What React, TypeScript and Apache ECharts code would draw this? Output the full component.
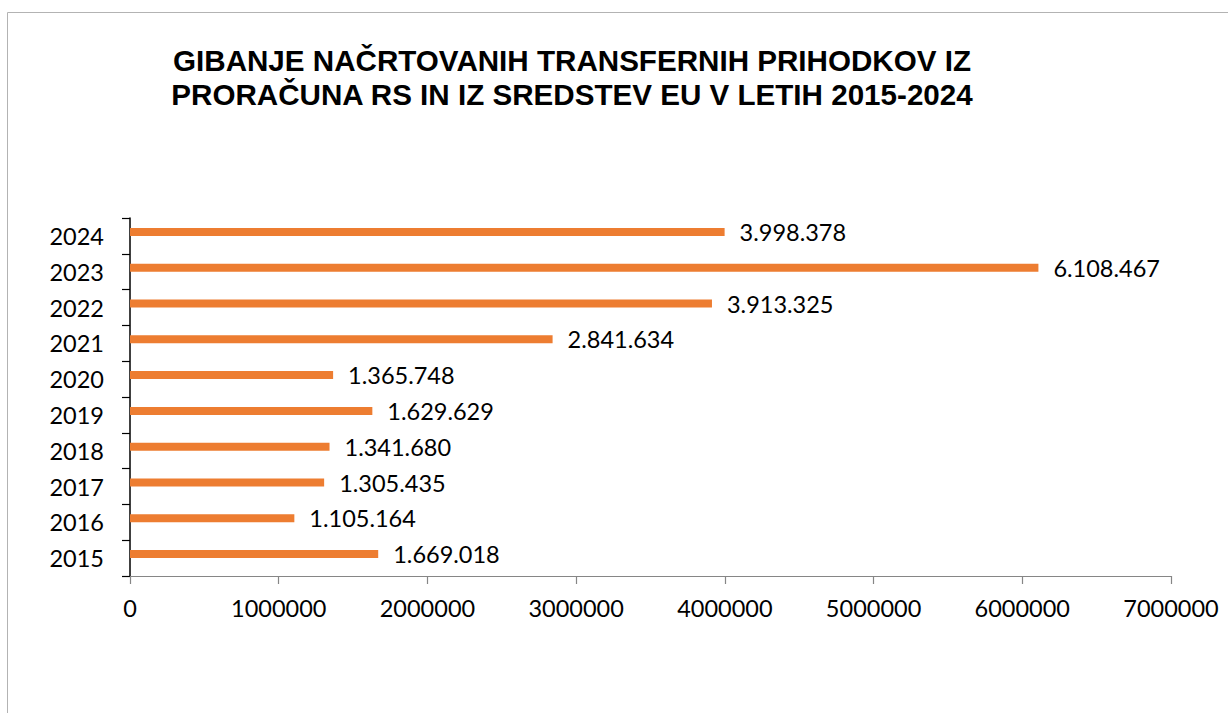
import React, { useEffect, useRef } from "react";
import * as echarts from "echarts";

const years = ["2015", "2016", "2017", "2018", "2019", "2020", "2021", "2022", "2023", "2024"];
const values = [1669018, 1105164, 1305435, 1341680, 1629629, 1365748, 2841634, 3913325, 6108467, 3998378];
const titleLines = [
  "GIBANJE NAČRTOVANIH TRANSFERNIH PRIHODKOV IZ",
  "PRORAČUNA RS IN IZ SREDSTEV EU V LETIH 2015-2024",
];
const xMin = 0;
const xMax = 7000000;
const xStep = 1000000;

const fmt = (v: number) => String(v).replace(/\B(?=(\d{3})+(?!\d))/g, ".");

export default function App() {
  const ref = useRef<HTMLDivElement>(null);
  useEffect(() => {
    document.body.style.margin = "0";
    const chart = echarts.init(ref.current!, undefined, { renderer: "svg" });
    const font = "Lato, 'Open Sans', sans-serif";
    chart.setOption({
      animation: false,
      backgroundColor: "#ffffff",
      graphic: [
        {
          type: "rect",
          shape: { x: 7.5, y: 12.5, width: 1300, height: 800 },
          style: { fill: "none", stroke: "#b3b3b3", lineWidth: 1 },
          silent: true,
        },
        {
          type: "text",
          x: 572,
          y: 43,
          style: {
            text: titleLines.join("\n"),
            font: "bold 29.6px 'Liberation Sans', Arial, sans-serif",
            fill: "#000",
            align: "center",
            verticalAlign: "top",
            lineHeight: 34,
          },
        },
      ],
      grid: { left: 130, top: 218, right: 57, bottom: 137, containLabel: false },
      xAxis: {
        type: "value",
        min: xMin,
        max: xMax,
        interval: xStep,
        axisLine: { show: true, lineStyle: { color: "#868686", width: 1.2 } },
        axisTick: { show: true, length: 8, lineStyle: { color: "#868686", width: 1.2 } },
        splitLine: { show: false },
        axisLabel: {
          formatter: (v: number) => String(v),
          fontFamily: font,
          fontSize: 23.5,
          color: "#000",
          margin: 20,
        },
      },
      yAxis: {
        type: "category",
        data: years,
        axisLine: { show: true, lineStyle: { color: "#000", width: 1.5 } },
        axisTick: { show: true, length: 8, lineStyle: { color: "#000", width: 1.2 } },
        axisLabel: { fontFamily: font, fontSize: 23.5, color: "#000", margin: 26 },
      },
      series: [
        {
          type: "bar",
          data: values,
          barWidth: 8,
          barGap: "0%",
          itemStyle: { color: "#ED7D31" },
          label: {
            show: true,
            position: "right",
            distance: 15,
            formatter: (p: any) => fmt(p.value),
            fontFamily: font,
            fontSize: 23.5,
            color: "#000",
          },
        },
        {
          type: "bar",
          data: years.map(() => null),
          barWidth: 8,
          barGap: "0%",
          itemStyle: { color: "transparent" },
          silent: true,
        },
      ],
    });
    return () => chart.dispose();
  }, []);
  return <div ref={ref} style={{ width: 1228, height: 713 }} />;
}
